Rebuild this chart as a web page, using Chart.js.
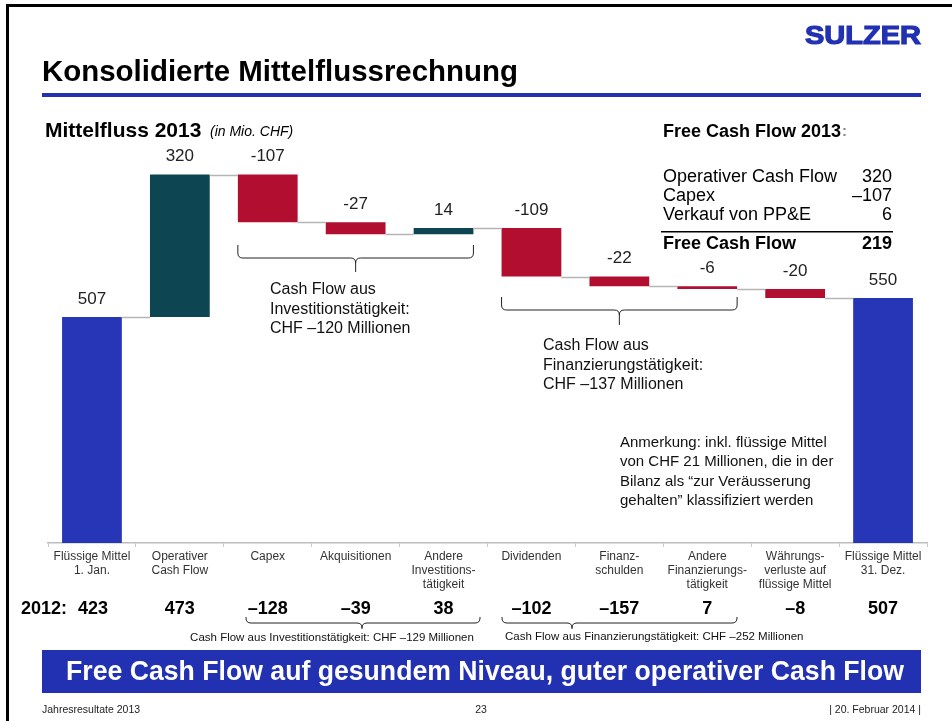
<!DOCTYPE html>
<html>
<head>
<meta charset="utf-8">
<script src="https://cdn.jsdelivr.net/npm/chart.js@4"></script>
<style>
  html, body { margin: 0; padding: 0; background: #fff; }
  #wrap { width: 952px; height: 721px; }
</style>
</head>
<body>
<div id="wrap"><canvas id="cashChart" width="952" height="721"></canvas></div>
<script>
// categories of the waterfall
const categories = [
    ['Flüssige Mittel', '1. Jan.'],
    ['Operativer', 'Cash Flow'],
    ['Capex'],
    ['Akquisitionen'],
    ['Andere', 'Investitions-', 'tätigkeit'],
    ['Dividenden'],
    ['Finanz-', 'schulden'],
    ['Andere', 'Finanzierungs-', 'tätigkeit'],
    ['Währungs-', 'verluste auf', 'flüssige Mittel'],
    ['Flüssige Mittel', '31. Dez.']
];
// 2013 values (first and last are totals, the rest are movements)
const flows2013 = [507, 320, -107, -27, 14, -109, -22, -6, -20, 550];
const totalIdx = [0, 9];
// previous year row
const values2012 = ['423', '473', '–128', '–39', '38', '–102', '–157', '7', '–8', '507'];
// free cash flow box
const fcfRows = ['Operativer Cash Flow', 'Capex', 'Verkauf von PP&E'];
const fcfValues = ['320', '–107', '6'];
const fcfTotal = ['Free Cash Flow', '219'];

const FONT = '"Liberation Sans", Arial, sans-serif';
const BLUE = '#2636b6';
const TEAL = '#0d4552';
const RED = '#b20e30';

// build floating ranges
let running = 0;
const ranges = [];
const ends = [];
flows2013.forEach((v, i) => {
    if (totalIdx.includes(i)) {
        ranges.push([0, v]);
        running = v;
    } else {
        ranges.push([running, running + v]);
        running += v;
    }
    ends.push(running);
});
const barColors = flows2013.map((v, i) => totalIdx.includes(i) ? BLUE : (v >= 0 ? TEAL : RED));

function bracket(ctx, x1, x2, yTop, yMid, xTip, yTip) {
    const r = 5;
    ctx.beginPath();
    ctx.moveTo(x1, yTop);
    ctx.lineTo(x1, yMid - r);
    ctx.quadraticCurveTo(x1, yMid, x1 + r, yMid);
    ctx.lineTo(xTip - r, yMid);
    ctx.quadraticCurveTo(xTip, yMid, xTip, yMid + r);
    ctx.lineTo(xTip, yTip);
    ctx.moveTo(xTip, yMid + r);
    ctx.quadraticCurveTo(xTip, yMid, xTip + r, yMid);
    ctx.lineTo(x2 - r, yMid);
    ctx.quadraticCurveTo(x2, yMid, x2, yMid - r);
    ctx.lineTo(x2, yTop);
    ctx.stroke();
}

const slidePlugin = {
    id: 'slide',
    beforeDraw(chart) {
        const ctx = chart.ctx;
        ctx.save();
        ctx.fillStyle = '#fff';
        ctx.fillRect(0, 0, chart.width, chart.height);
        // frame
        ctx.fillStyle = '#000';
        ctx.fillRect(6, 4, 946, 3);
        ctx.fillRect(6, 4, 3, 717);
        // logo
        ctx.fillStyle = '#2131b1';
        ctx.font = 'bold 26px ' + FONT;
        ctx.textBaseline = 'middle';
        const lw = ctx.measureText('SULZER').width;
        ctx.translate(805, 37);
        ctx.scale(116 / lw, 1);
        ctx.fillText('SULZER', 0, 0);
        ctx.strokeStyle = '#2131b1';
        ctx.lineWidth = 1.2;
        ctx.strokeText('SULZER', 0, 0);
        ctx.setTransform(1, 0, 0, 1, 0, 0);
        // title
        ctx.fillStyle = '#000';
        ctx.font = 'bold 29.5px ' + FONT;
        ctx.textAlign = 'left';
        ctx.fillText('Konsolidierte Mittelflussrechnung', 42, 73, 476);
        ctx.fillStyle = '#2131b1';
        ctx.fillRect(42, 93, 879, 4);
        // chart subtitle
        ctx.fillStyle = '#000';
        ctx.font = 'bold 21px ' + FONT;
        ctx.fillText('Mittelfluss 2013', 45, 131);
        ctx.font = 'italic 14px ' + FONT;
        ctx.fillText('(in Mio. CHF)', 210, 132);
        ctx.restore();
    },
    afterDraw(chart) {
        const ctx = chart.ctx;
        const x = chart.scales.x;
        const y = chart.scales.y;
        const bars = chart.getDatasetMeta(0).data;
        ctx.save();
        ctx.textBaseline = 'middle';

        // connector lines
        ctx.strokeStyle = '#b4b4b4';
        ctx.lineWidth = 1.5;
        for (let i = 0; i < bars.length - 1; i++) {
            const yy = Math.round(y.getPixelForValue(ends[i])) + 0.5;
            ctx.beginPath();
            ctx.moveTo(bars[i].x + bars[i].width / 2, yy);
            ctx.lineTo(bars[i + 1].x - bars[i + 1].width / 2, yy);
            ctx.stroke();
        }

        // value labels
        ctx.fillStyle = '#222';
        ctx.font = '17px ' + FONT;
        ctx.textAlign = 'center';
        flows2013.forEach((v, i) => {
            const top = y.getPixelForValue(Math.max(ranges[i][0], ranges[i][1]));
            ctx.fillText(v < 0 ? '-' + Math.abs(v) : String(v), bars[i].x, top - 18);
        });

        // brackets over the chart
        ctx.strokeStyle = '#222';
        ctx.lineWidth = 1;
        const l2 = bars[2].x - bars[2].width / 2, r4 = bars[4].x + bars[4].width / 2;
        bracket(ctx, l2, r4, 245, 258, (l2 + r4) / 2, 272);
        const l5 = bars[5].x - bars[5].width / 2, r7 = bars[7].x + bars[7].width / 2;
        bracket(ctx, l5, r7, 297, 310, (l5 + r7) / 2, 325);

        ctx.fillStyle = '#111';
        ctx.font = '16px ' + FONT;
        ctx.textAlign = 'left';
        ['Cash Flow aus', 'Investitionstätigkeit:', 'CHF –120 Millionen'].forEach((t, k) => {
            ctx.fillText(t, 270, 290 + k * 19.5);
        });
        ['Cash Flow aus', 'Finanzierungstätigkeit:', 'CHF –137 Millionen'].forEach((t, k) => {
            ctx.fillText(t, 543, 346 + k * 19.5);
        });
        ctx.font = '15px ' + FONT;
        ['Anmerkung: inkl. flüssige Mittel', 'von CHF 21 Millionen, die in der',
         'Bilanz als “zur Veräusserung', 'gehalten” klassifiziert werden'].forEach((t, k) => {
            ctx.fillText(t, 620, 443 + k * 19.3);
        });

        // free cash flow box
        ctx.fillStyle = '#000';
        ctx.font = 'bold 18px ' + FONT;
        ctx.fillText('Free Cash Flow 2013', 663, 132);
        ctx.fillStyle = '#888';
        ctx.font = 'bold 15px ' + FONT;
        ctx.fillText(':', 842, 132);
        ctx.fillStyle = '#000';
        ctx.font = '18px ' + FONT;
        fcfRows.forEach((t, k) => {
            const yy = 177 + k * 19;
            ctx.textAlign = 'left';
            ctx.fillText(t, 663, yy);
            ctx.textAlign = 'right';
            ctx.fillText(fcfValues[k], 892, yy);
        });
        ctx.fillRect(661, 231, 232, 1.5);
        ctx.font = 'bold 18px ' + FONT;
        ctx.textAlign = 'left';
        ctx.fillText(fcfTotal[0], 663, 244);
        ctx.textAlign = 'right';
        ctx.fillText(fcfTotal[1], 892, 244);

        // 2012 row
        ctx.font = 'bold 18px ' + FONT;
        ctx.textAlign = 'right';
        ctx.fillText('2012:', 67, 609);
        ctx.textAlign = 'center';
        values2012.forEach((t, i) => {
            ctx.fillText(t, x.getPixelForValue(i) + (i === 0 ? 1 : 0), 609);
        });

        // brackets under the 2012 row
        ctx.lineWidth = 1;
        ctx.strokeStyle = '#222';
        bracket(ctx, 246, 480, 617, 623, 362, 629);
        bracket(ctx, 502, 737, 617, 623, 572, 629);
        ctx.fillStyle = '#111';
        ctx.font = '11.5px ' + FONT;
        ctx.textAlign = 'center';
        ctx.fillText('Cash Flow aus Investitionstätigkeit: CHF –129 Millionen', 332, 638);
        ctx.textAlign = 'left';
        ctx.fillText('Cash Flow aus Finanzierungstätigkeit: CHF –252 Millionen', 505, 637);

        // banner
        ctx.fillStyle = '#2131b1';
        ctx.fillRect(42, 650, 879, 43);
        ctx.fillStyle = '#fff';
        ctx.font = 'bold 27.5px ' + FONT;
        ctx.textAlign = 'center';
        ctx.fillText('Free Cash Flow auf gesundem Niveau, guter operativer Cash Flow', 485, 672, 838);

        // footer
        ctx.fillStyle = '#222';
        ctx.font = '10.5px ' + FONT;
        ctx.textAlign = 'left';
        ctx.fillText('Jahresresultate 2013', 42, 710);
        ctx.textAlign = 'center';
        ctx.fillText('23', 481, 710);
        ctx.textAlign = 'right';
        ctx.fillText('| 20. Februar 2014 |', 921, 710);
        ctx.restore();
    }
};

const data = {
    labels: categories,
    datasets: [{
        label: 'Mittelfluss 2013',
        data: ranges,
        backgroundColor: barColors,
        borderWidth: 0,
        barPercentage: 0.68,
        categoryPercentage: 1.0
    }]
};

const config = {
    type: 'bar',
    data: data,
    options: {
        responsive: false,
        animation: false,
        layout: {
            padding: { left: 48, right: 25, top: 142, bottom: 118 }
        },
        plugins: {
            legend: { display: false },
            tooltip: { enabled: false }
        },
        scales: {
            x: {
                grid: {
                    offset: true,
                    drawOnChartArea: false,
                    color: '#c8c8c8',
                    tickLength: 4
                },
                border: { color: '#bdbdbd', width: 1.5 },
                ticks: {
                    color: '#333',
                    padding: 2,
                    maxRotation: 0,
                    autoSkip: false,
                    font: { family: FONT, size: 12, lineHeight: 1.2 }
                },
                afterFit: function(axis) {
                    axis.height = 60;
                }
            },
            y: {
                display: false,
                min: 0,
                max: 900
            }
        }
    },
    plugins: [slidePlugin]
};

const ctx = document.getElementById('cashChart').getContext('2d');
const myChart = new Chart(ctx, config);
</script>
</body>
</html>
